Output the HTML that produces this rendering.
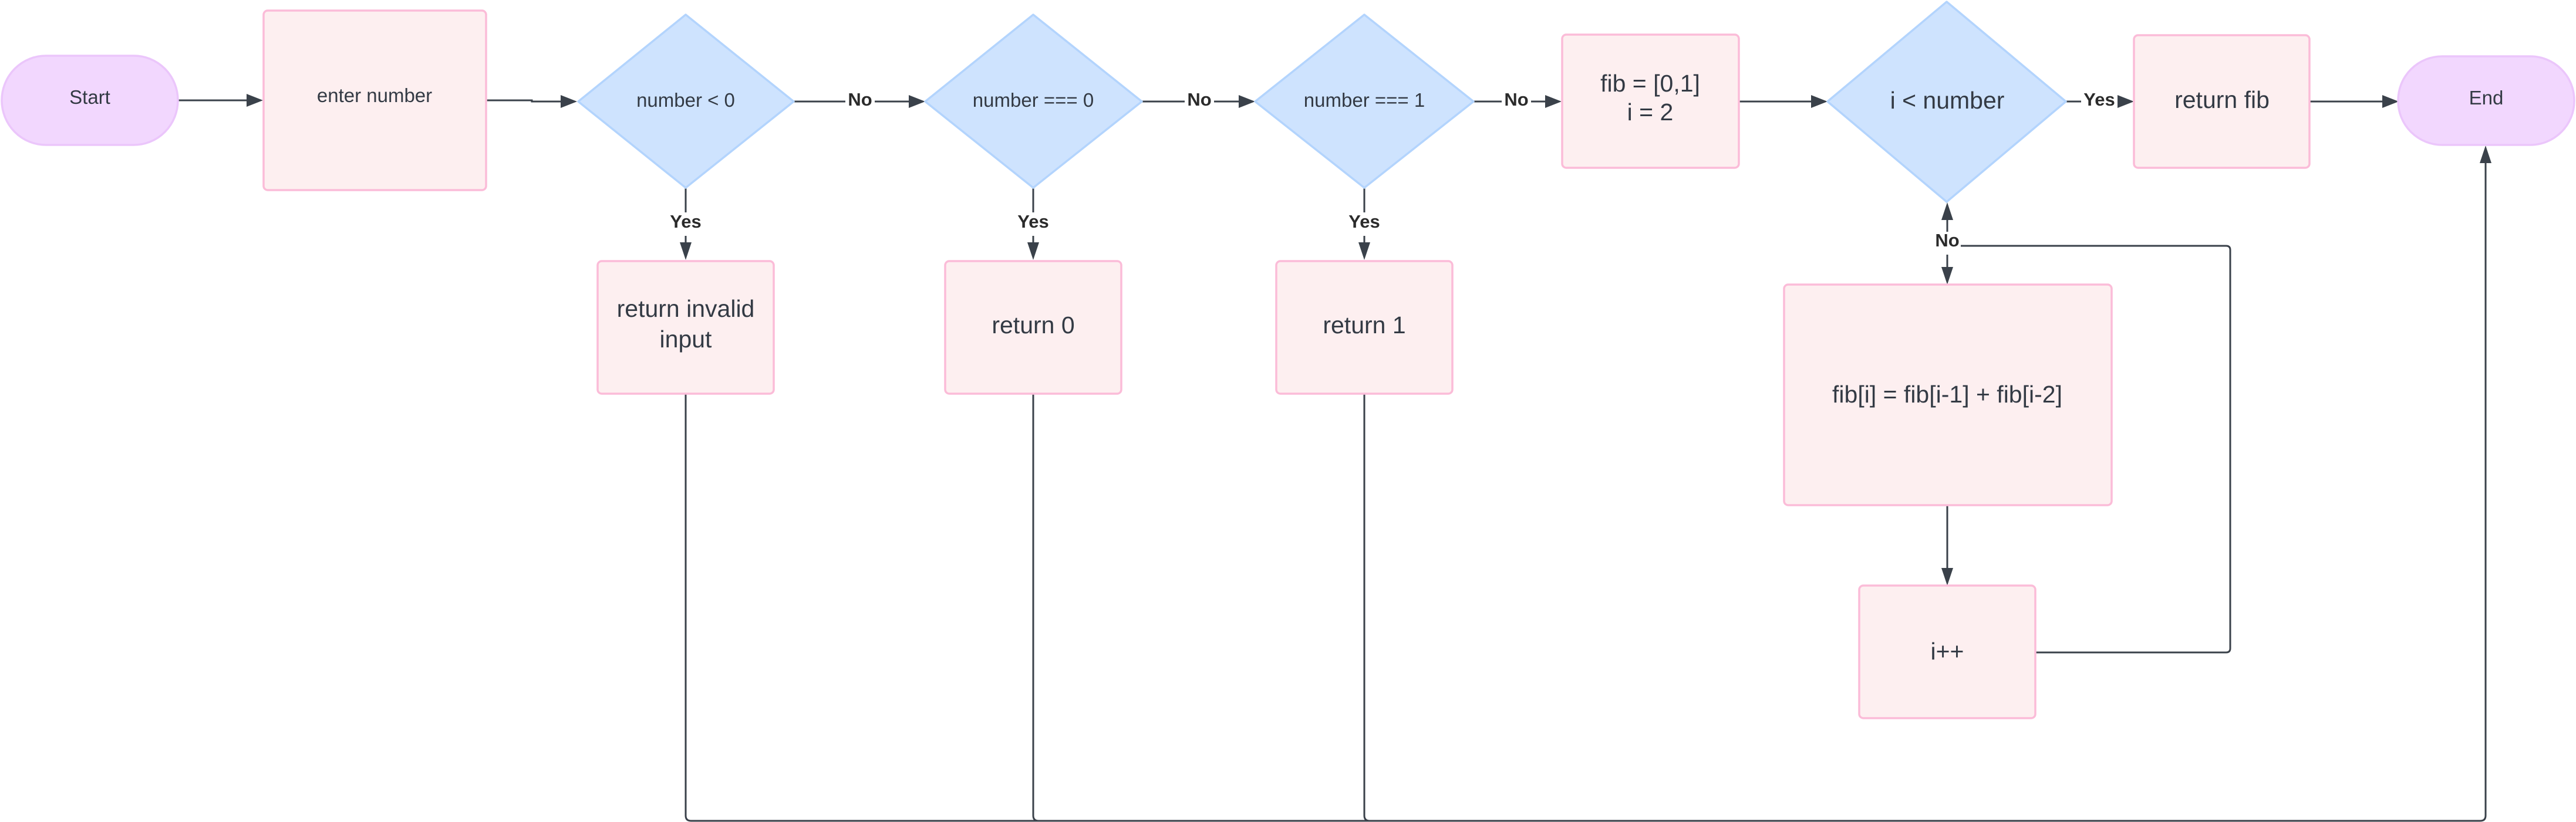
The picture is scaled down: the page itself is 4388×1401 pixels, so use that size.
<!DOCTYPE html>
<html><head><meta charset="utf-8"><style>
html,body{margin:0;padding:0;background:#fff;}
svg{display:block;}
text{font-family:"Liberation Sans",sans-serif;fill:#333a44;}
.b{font-weight:bold;fill:#2b2b2b;}
</style></head><body>
<svg width="4388" height="1401" viewBox="0 0 4388 1401" xmlns="http://www.w3.org/2000/svg">
<g fill="none" stroke="#3a414a" stroke-width="3">
<line x1="303" y1="171" x2="420" y2="171"/>
<polyline points="828,171 906,171 906,173 955,173"/>
<line x1="1352" y1="173" x2="1440" y2="173"/><line x1="1490" y1="173" x2="1548" y2="173"/>
<line x1="1945" y1="173" x2="2018" y2="173"/><line x1="2068" y1="173" x2="2110" y2="173"/>
<line x1="2510" y1="173" x2="2558" y2="173"/><line x1="2608" y1="173" x2="2632" y2="173"/>
<line x1="2962" y1="173" x2="3085" y2="173"/>
<line x1="3519" y1="173" x2="3545" y2="173"/>
<line x1="3934" y1="173" x2="4058" y2="173"/>
<line x1="1168" y1="320" x2="1168" y2="362"/><line x1="1168" y1="402" x2="1168" y2="418"/>
<line x1="1760" y1="320" x2="1760" y2="362"/><line x1="1760" y1="402" x2="1760" y2="418"/>
<line x1="2324" y1="320" x2="2324" y2="362"/><line x1="2324" y1="402" x2="2324" y2="418"/>
<line x1="3317" y1="395" x2="3317" y2="372"/>
<line x1="3317" y1="434" x2="3317" y2="458"/>
<path d="M3340 419 H3792 Q3799 419 3799 426 V1105 Q3799 1112 3792 1112 H3467"/>
<line x1="3317" y1="861" x2="3317" y2="970"/>
<path d="M1168 671 V1390 Q1168 1399 1177 1399 H4225 Q4234 1399 4234 1390 V275"/>
<path d="M1760 671 V1390 Q1760 1399 1769 1399"/>
<path d="M2324 671 V1390 Q2324 1399 2333 1399"/>
</g>
<g fill="#3a414a">
<polygon points="420,160 448,171 420,182"/>
<polygon points="955,162 983,173 955,184"/>
<polygon points="1548,162 1576,173 1548,184"/>
<polygon points="2110,162 2138,173 2110,184"/>
<polygon points="2632,162 2660,173 2632,184"/>
<polygon points="3085,162 3113,173 3085,184"/>
<polygon points="3607,162 3635,173 3607,184"/>
<polygon points="4058,162 4086,173 4058,184"/>
<polygon points="1158,413 1168,443 1178,413"/>
<polygon points="1750,413 1760,443 1770,413"/>
<polygon points="2314,413 2324,443 2334,413"/>
<polygon points="3307,375 3317,345 3327,375"/>
<polygon points="3307,455 3317,485 3327,455"/>
<polygon points="3307,968 3317,998 3327,968"/>
<polygon points="4224,278 4234,248 4244,278"/>
</g>
<g stroke-width="3.5">
<rect x="3" y="95" width="300" height="152" rx="75" ry="76" fill="#f2d7fe" stroke="#ebc6fb"/>
<rect x="4085" y="96" width="300" height="151" rx="75" ry="75" fill="#f2d7fe" stroke="#ebc6fb"/>
<g fill="#fdeff0" stroke="#fbbcd8">
<rect x="449" y="18" width="379" height="306" rx="7"/>
<rect x="1018" y="445" width="300" height="226" rx="7"/>
<rect x="1610" y="445" width="300" height="226" rx="7"/>
<rect x="2174" y="445" width="300" height="226" rx="7"/>
<rect x="2661" y="59" width="301" height="227" rx="7"/>
<rect x="3635" y="60" width="299" height="226" rx="7"/>
<rect x="3039" y="485" width="558" height="376" rx="7"/>
<rect x="3167" y="998" width="300" height="226" rx="7"/>
</g>
<g fill="#cee3fe" stroke="#b3d4fd" stroke-linejoin="round">
<polygon points="1168,25 1352,173 1168,320 985,173"/>
<polygon points="1760,25 1945,173 1760,320 1576,173"/>
<polygon points="2324,25 2510,173 2324,320 2138,173"/>
<polygon points="3316,3 3519,173 3316,344 3113,173"/>
</g>
</g>
<g font-size="33" text-anchor="middle">
<text x="153" y="177">Start</text>
<text x="4235" y="178">End</text>
<text x="638" y="174">enter number</text>
<text x="1168" y="182">number &lt; 0</text>
<text x="1760" y="182">number === 0</text>
<text x="2324" y="182">number === 1</text>
</g>
<g font-size="41" text-anchor="middle">
<text x="1168" y="540">return invalid</text>
<text x="1168" y="592">input</text>
<text x="1760" y="568">return 0</text>
<text x="2324" y="568">return 1</text>
<text x="2811" y="156">fib = [0,1]</text>
<text x="2811" y="205">i = 2</text>
<text x="3317" y="185">i &lt; number</text>
<text x="3785" y="184">return fib</text>
<text x="3317" y="686">fib[i] = fib[i-1] + fib[i-2]</text>
<text x="3317" y="1124">i++</text>
</g>
<g font-size="31" text-anchor="middle">
<text class="b" x="1465" y="180">No</text>
<text class="b" x="2043" y="180">No</text>
<text class="b" x="2583" y="180">No</text>
<text class="b" x="3576" y="180">Yes</text>
<text class="b" x="1168" y="388">Yes</text>
<text class="b" x="1760" y="388">Yes</text>
<text class="b" x="2324" y="388">Yes</text>
<text class="b" x="3317" y="420">No</text>
</g>
</svg>
</body></html>
